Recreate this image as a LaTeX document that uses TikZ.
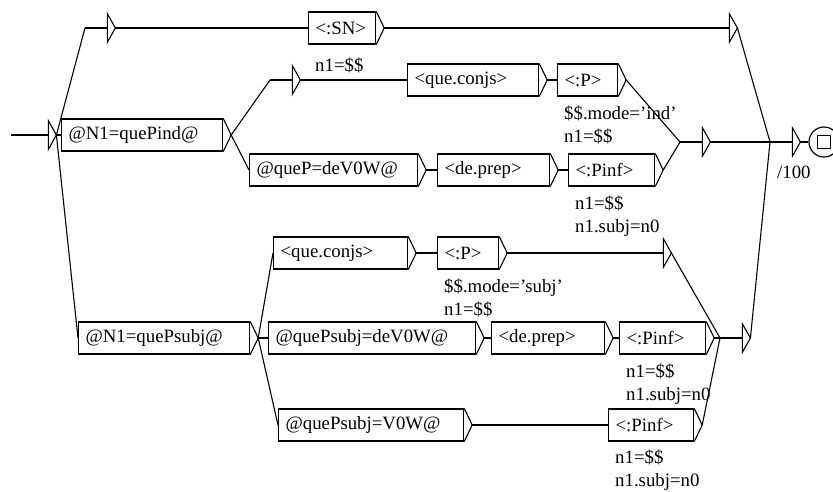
\documentclass[tikz,border=0pt]{standalone}
\usepackage{fontspec}
\setmainfont{Liberation Serif}
\usetikzlibrary{calc}
\tikzset{
  unitbox/.style={draw,line width=1.2pt,anchor=west,align=left,text width=#1,
    minimum height=32,inner xsep=7,inner ysep=0},
  epsbox/.style={anchor=west,minimum width=#1,minimum height=28,inner sep=0},
  epsbox/.default=22,
  outlabel/.style={anchor=north west,align=left,inner xsep=7,inner ysep=0},
  link/.style={line width=1.1pt}
}
\begin{document}
\begin{tikzpicture}[x=1pt,y=-1pt,font=\fontsize{18.8}{23.5}\selectfont]
  \useasboundingbox (0,0) rectangle (833,491);
  % empty boxes
  \node[epsbox=37] (init) at (11,135) {};
  \node[epsbox] (e1) at (85,28) {};
  \node[epsbox] (e2) at (707,28) {};
  \node[epsbox] (e3) at (270,80) {};
  \node[epsbox] (e4) at (680,142) {};
  \node[epsbox] (e5) at (770,142) {};
  \node[epsbox] (e6) at (641,253) {};
  \node[epsbox] (e7) at (720,338) {};
  % boxes
  \node[unitbox=53] (sn) at (308,28) {<:SN>};
  \node[unitbox=147] (quePind) at (61,135) {@N1=quePind@};
  \node[unitbox=117] (conjsA) at (407,80) {<que.conjs>};
  \node[unitbox=46] (pA) at (557,80) {<:P>};
  \node[unitbox=154] (deVOW) at (249,170) {@queP=deV0W@};
  \node[unitbox=98] (prepA) at (437,170) {<de.prep>};
  \node[unitbox=72] (pinfA) at (568,170) {<:Pinf>};
  \node[unitbox=120] (conjsB) at (273,253) {<que.conjs>};
  \node[unitbox=47] (pB) at (437,253) {<:P>};
  \node[unitbox=157] (quePsubj) at (78,338) {@N1=quePsubj@};
  \node[unitbox=193] (subjdeVOW) at (268,338) {@quePsubj=deV0W@};
  \node[unitbox=99] (prepB) at (491,338) {<de.prep>};
  \node[unitbox=72] (pinfB) at (619,338) {<:Pinf>};
  \node[unitbox=171] (subjVOW) at (278,425) {@quePsubj=V0W@};
  \node[unitbox=71] (pinfC) at (608,425) {<:Pinf>};
  % final state
  \node[circle,draw,line width=1.2pt,minimum size=30,inner sep=0] (fin) at (824,142) {};
  \draw[line width=1.2pt] (fin.center) +(-6.5,-6.5) rectangle +(6.5,6.5);
  % outputs
  \node[outlabel] (o-sn) at ([yshift=-13pt]sn.south west) {n1=\$\$};
  \node[outlabel] (o-pA) at ([yshift=-9pt]pA.south west) {\$\$.mode='ind'\\n1=\$\$};
  \node[outlabel] (o-pinfA) at ([yshift=-9pt]pinfA.south west) {n1=\$\$\\n1.subj=n0};
  \node[outlabel] (o-pB) at ([yshift=-9pt]pB.south west) {\$\$.mode='subj'\\n1=\$\$};
  \node[outlabel] (o-pinfB) at ([yshift=-9pt]pinfB.south west) {n1=\$\$\\n1.subj=n0};
  \node[outlabel] (o-pinfC) at ([yshift=-8pt]pinfC.south west) {n1=\$\$\\n1.subj=n0};
  \node[outlabel] (o-e5) at ([yshift=-10pt]e5.south west) {/100};
  % arrow heads
  \foreach \n in {init,e1,e2,e3,e4,e5,e6,e7} {
    \coordinate (\n-o) at ([xshift=8pt]\n.east);
    \draw[link] (\n.west) -- (\n.east);
    \draw[link] (\n.north east) -- (\n-o) -- (\n.south east) -- cycle;
  }
  \foreach \n in {sn,quePind,conjsA,pA,deVOW,prepA,pinfA,conjsB,pB,
                  quePsubj,subjdeVOW,prepB,pinfB,subjVOW,pinfC} {
    \coordinate (\n-o) at ([xshift=8pt]\n.east);
    \draw[link] (\n.north east) -- (\n-o) -- (\n.south east);
  }
  % transitions
  \foreach \a/\b in {init/e1,init/quePind,init/quePsubj,e1/sn,sn/e2,e2/e5,
                     quePind/e3,quePind/deVOW,e3/conjsA,conjsA/pA,pA/e4,
                     deVOW/prepA,prepA/pinfA,pinfA/e4,e4/e5,
                     quePsubj/conjsB,quePsubj/subjdeVOW,quePsubj/subjVOW,
                     conjsB/pB,pB/e6,e6/e7,subjdeVOW/prepB,prepB/pinfB,pinfB/e7,
                     subjVOW/pinfC,pinfC/e7,e7/e5}
    \draw[link] (\a-o) -- (\b.west);
  \draw[link] (e5-o) -- (fin);
\end{tikzpicture}
\end{document}
